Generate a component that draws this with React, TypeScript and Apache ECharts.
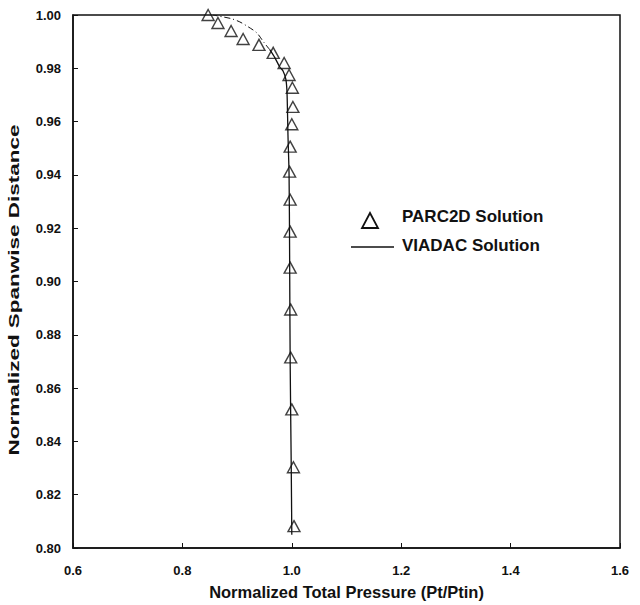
import React, { useEffect, useRef } from "react";
import * as echarts from "echarts";

const parcX = [0.847, 0.865, 0.889, 0.911, 0.94, 0.966, 0.986, 0.995, 1.001, 1.002, 1.0, 0.997, 0.996, 0.997, 0.997, 0.997, 0.998, 0.998, 1.0, 1.003, 1.004];
const parcY = [1.0, 0.997, 0.994, 0.991, 0.9888, 0.9858, 0.982, 0.9775, 0.9727, 0.9655, 0.959, 0.9506, 0.9412, 0.9307, 0.9187, 0.9052, 0.8895, 0.8715, 0.852, 0.8303, 0.8082];

const viadacSolidX = [1.0, 0.999, 0.997, 0.996, 0.995, 0.993, 0.992, 0.991, 0.989, 0.984, 0.978, 0.969, 0.96];
const viadacSolidY = [0.805, 0.83, 0.87, 0.91, 0.94, 0.955, 0.965, 0.972, 0.976, 0.979, 0.9805, 0.984, 0.9869];
const viadacDashX = [0.96, 0.948, 0.936, 0.92, 0.905, 0.89, 0.874, 0.856];
const viadacDashY = [0.9869, 0.99, 0.9933, 0.9956, 0.9974, 0.9986, 0.9993, 1.0];

const xTicks = [0.6, 0.8, 1.0, 1.2, 1.4, 1.6];
const yTicks = [0.8, 0.82, 0.84, 0.86, 0.88, 0.9, 0.92, 0.94, 0.96, 0.98, 1.0];

const legendNames = ["PARC2D Solution", "VIADAC Solution"];
const xTitle = "Normalized Total Pressure (Pt/Ptin)";
const yTitle = "Normalized Spanwise Distance";

const zip = (a: number[], b: number[]) => a.map((v, i) => [v, b[i]]);

export default function App() {
  const ref = useRef<HTMLDivElement>(null);
  useEffect(() => {
    if (!ref.current) return;
    const chart = echarts.init(ref.current, undefined, { renderer: "svg" });
    const font = "Liberation Sans, Arial, sans-serif";
    const legendText = { fontFamily: font, fontWeight: "bold", fontSize: 17, fill: "#111" };
    chart.setOption({
      animation: false,
      backgroundColor: "#fff",
      grid: {
        left: 73,
        right: 20,
        top: 15,
        bottom: 56,
        show: true,
        borderColor: "#111",
        borderWidth: 1.5,
      },
      graphic: [
        {
          type: "polygon",
          shape: { points: [[370, 213], [362, 228], [378, 228]] },
          style: { fill: "none", stroke: "#111", lineWidth: 1.8 },
        },
        {
          type: "text",
          left: 402,
          top: 208,
          style: { ...legendText, text: legendNames[0] },
        },
        {
          type: "line",
          shape: { x1: 351, y1: 247, x2: 394, y2: 247 },
          style: { stroke: "#111", lineWidth: 1.3 },
        },
        {
          type: "text",
          left: 402,
          top: 237,
          style: { ...legendText, text: legendNames[1] },
        },
        {
          type: "text",
          x: 14,
          y: 290,
          rotation: Math.PI / 2,
          scaleX: 1.5,
          style: {
            text: yTitle,
            fontFamily: font,
            fontWeight: "bold",
            fontSize: 15,
            fill: "#111",
            align: "center",
            verticalAlign: "middle",
          },
        },
      ],
      xAxis: {
        type: "value",
        min: xTicks[0],
        max: xTicks[xTicks.length - 1],
        interval: 0.2,
        name: xTitle,
        nameLocation: "middle",
        nameGap: 35,
        nameTextStyle: { fontFamily: font, fontWeight: "bold", fontSize: 16.5, color: "#111" },
        axisLine: { show: true, lineStyle: { color: "#111", width: 1.5 } },
        axisTick: { show: true, inside: true, length: 5, lineStyle: { color: "#111" } },
        axisLabel: {
          fontFamily: font,
          fontWeight: "bold",
          fontSize: 13,
          color: "#111",
          margin: 16,
          formatter: (v: number) => v.toFixed(1),
        },
        splitLine: { show: false },
      },
      yAxis: {
        type: "value",
        min: yTicks[0],
        max: yTicks[yTicks.length - 1],
        interval: 0.02,
        axisLine: { show: true, lineStyle: { color: "#111", width: 1.5 } },
        axisTick: { show: true, inside: true, length: 5, lineStyle: { color: "#111" } },
        axisLabel: {
          fontFamily: font,
          fontWeight: "bold",
          fontSize: 13,
          color: "#111",
          margin: 12,
          formatter: (v: number) => v.toFixed(2),
        },
        splitLine: { show: false },
      },
      series: [
        {
          name: legendNames[1],
          type: "line",
          data: zip(viadacSolidX, viadacSolidY),
          symbol: "none",
          smooth: 0.3,
          lineStyle: { color: "#111", width: 1.3 },
          z: 2,
        },
        {
          name: legendNames[1],
          type: "line",
          data: zip(viadacDashX, viadacDashY),
          symbol: "none",
          smooth: 0.3,
          lineStyle: { color: "#111", width: 1, type: [6, 3, 1, 3] },
          z: 2,
        },
        {
          name: legendNames[0],
          type: "scatter",
          data: zip(parcX, parcY),
          symbol: "triangle",
          symbolSize: [12, 11],
          itemStyle: { color: "rgba(255,255,255,0)", borderColor: "#111", borderWidth: 1.4 },
          z: 3,
        },
      ],
    });
    return () => chart.dispose();
  }, []);
  return (
    <div
      ref={ref}
      style={{ position: "absolute", left: 0, top: 0, width: 640, height: 605 }}
    />
  );
}
